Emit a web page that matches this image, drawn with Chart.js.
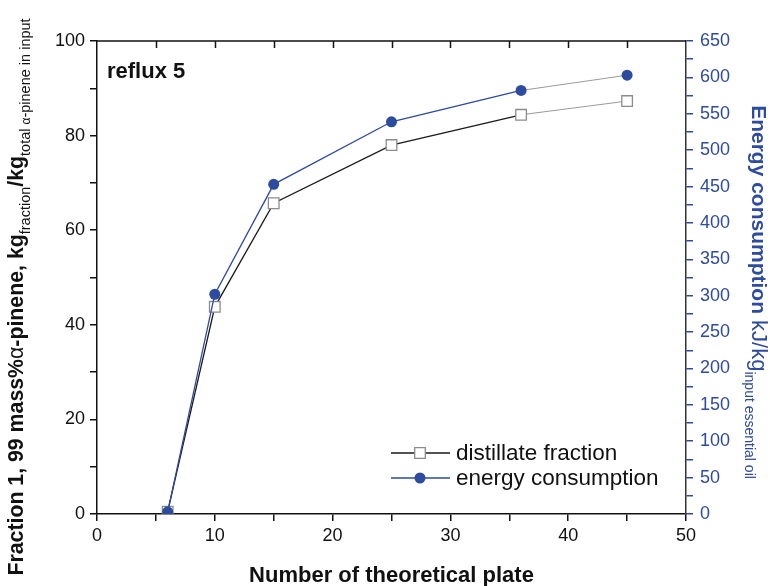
<!DOCTYPE html>
<html>
<head>
<meta charset="utf-8">
<style>
html, body { margin: 0; padding: 0; background: #fff; }
#wrap { width: 770px; height: 586px; }
</style>
<script src="https://cdn.jsdelivr.net/npm/chart.js@4/dist/chart.umd.min.js"></script>
</head>
<body>
<div id="wrap"><canvas id="chart"></canvas></div>
<script>
// data
var plates = [6, 10, 15, 25, 36, 45];
var distillate = [0.5, 43.8, 65.7, 78.0, 84.4, 87.3];
var energy = [3, 302, 453, 539, 582, 603];
var seriesNames = ['distillate fraction', 'energy consumption'];
var xTitle = 'Number of theoretical plate';
var panelLabel = 'reflux 5';

var FONT = '"Liberation Sans", Arial, sans-serif';
var BLUE = '#2d4b9f';

function pts(ys) {
    return plates.map(function (x, i) { return { x: x, y: ys[i] }; });
}

// last segment of both curves is a thin grey line in the original
var lastGrey = function (c) { return c.p1DataIndex === plates.length - 1 ? '#9a9a9a' : undefined; };
var lastThin = function (c) { return c.p1DataIndex === plates.length - 1 ? 1 : undefined; };

// draws text made of runs (bold / subscript) rotated around a centre
function richText(ctx, runs, cx, cy, angle, color) {
    ctx.save();
    ctx.translate(cx, cy);
    ctx.rotate(angle);
    ctx.fillStyle = color;
    ctx.textBaseline = 'alphabetic';
    ctx.textAlign = 'left';
    var total = 0;
    runs.forEach(function (r) { ctx.font = r.f; r.w = ctx.measureText(r.t).width; total += r.w; });
    var x = -total / 2;
    runs.forEach(function (r) {
        ctx.font = r.f;
        ctx.fillText(r.t, x, 7 + (r.dy || 0));
        x += r.w;
    });
    ctx.restore();
}

var decor = {
    id: 'decor',
    afterDraw: function (chart) {
        var ctx = chart.ctx;
        var a = chart.chartArea;
        var xs = chart.scales.x;

        // top frame with inward ticks
        ctx.save();
        ctx.strokeStyle = '#111';
        ctx.lineWidth = 1.5;
        ctx.beginPath();
        ctx.moveTo(a.left, a.top);
        ctx.lineTo(a.right, a.top);
        for (var v = 5; v < 50; v += 5) {
            var px = Math.round(xs.getPixelForValue(v)) + 0.5;
            ctx.moveTo(px, a.top);
            ctx.lineTo(px, a.top + 7);
        }
        ctx.stroke();
        ctx.restore();

        // panel label
        ctx.save();
        ctx.fillStyle = '#111';
        ctx.font = 'bold 22px ' + FONT;
        ctx.textBaseline = 'alphabetic';
        ctx.fillText(panelLabel, a.left + 10, a.top + 37);
        ctx.restore();

        // legend inside the plot
        var ds = chart.data.datasets;
        ctx.save();
        for (var i = 0; i < ds.length; i++) {
            var y = 453 + i * 25;
            ctx.strokeStyle = ds[i].borderColor;
            ctx.lineWidth = 1.3;
            ctx.beginPath();
            ctx.moveTo(391, y);
            ctx.lineTo(450, y);
            ctx.stroke();
            ctx.fillStyle = ds[i].pointBackgroundColor;
            ctx.strokeStyle = ds[i].pointBorderColor;
            ctx.lineWidth = ds[i].pointBorderWidth;
            Chart.helpers.drawPoint(ctx, { pointStyle: ds[i].pointStyle, radius: ds[i].pointRadius, borderWidth: ds[i].pointBorderWidth }, 420, y);
            ctx.fillStyle = '#111';
            ctx.font = '22.5px ' + FONT;
            ctx.textBaseline = 'middle';
            ctx.fillText(seriesNames[i], 456, y + 1);
        }
        ctx.restore();

        // axis titles
        ctx.save();
        ctx.fillStyle = '#111';
        ctx.font = 'bold 22px ' + FONT;
        ctx.textAlign = 'center';
        ctx.textBaseline = 'middle';
        ctx.fillText(xTitle, (a.left + a.right) / 2, 576);
        ctx.restore();

        var B = 'bold 21.3px ' + FONT, R = '21.3px ' + FONT, S = '14.5px ' + FONT;
        richText(ctx, [
            { t: 'Fraction 1, 99 mass%', f: B },
            { t: 'α', f: R },
            { t: '-pinene, kg', f: B },
            { t: 'fraction', f: S, dy: 7 },
            { t: '/kg', f: B },
            { t: 'total ', f: S, dy: 7 },
            { t: 'α', f: '12px ' + FONT, dy: 7 },
            { t: '-pinene in input', f: S, dy: 7 }
        ], 16, 297, -Math.PI / 2, '#111');

        richText(ctx, [
            { t: 'Energy consumption', f: 'bold 21px ' + FONT },
            { t: ' kJ/kg', f: '22px ' + FONT },
            { t: 'input essential oil', f: '14px ' + FONT, dy: 7 }
        ], 759, 292, Math.PI / 2, BLUE);
    }
};

new Chart(document.getElementById('chart'), {
    type: 'scatter',
    data: {
        datasets: [
            {
                label: seriesNames[0],
                data: pts(distillate),
                yAxisID: 'y',
                order: 1,
                showLine: true,
                borderColor: '#1a1a1a',
                borderWidth: 1.3,
                pointStyle: 'rect',
                pointRadius: 7.5,
                pointBackgroundColor: '#ffffff',
                pointBorderColor: '#8c8c8c',
                pointBorderWidth: 1.3,
                segment: { borderColor: lastGrey, borderWidth: lastThin }
            },
            {
                label: seriesNames[1],
                data: pts(energy),
                yAxisID: 'y1',
                order: 0,
                showLine: true,
                borderColor: BLUE,
                borderWidth: 1.3,
                pointStyle: 'circle',
                pointRadius: 5.5,
                pointBackgroundColor: BLUE,
                pointBorderColor: BLUE,
                pointBorderWidth: 0,
                segment: { borderColor: lastGrey, borderWidth: lastThin }
            }
        ]
    },
    options: {
        responsive: true,
        maintainAspectRatio: false,
        animation: false,
        layout: { padding: { top: 41, left: 0, right: 0, bottom: 0 } },
        plugins: {
            legend: { display: false },
            tooltip: { enabled: false }
        },
        scales: {
            x: {
                type: 'linear',
                position: 'bottom',
                min: 0,
                max: 50,
                ticks: {
                    stepSize: 5,
                    autoSkip: false,
                    maxRotation: 0,
                    padding: 4,
                    color: '#111',
                    font: { family: FONT, size: 18 },
                    callback: function (v) { return v % 10 === 0 ? v : ''; }
                },
                grid: { drawOnChartArea: false, tickLength: 7, color: '#111', lineWidth: 1.5 },
                border: { color: '#111', width: 1.5 },
                afterFit: function (s) { s.height = 72; }
            },
            y: {
                position: 'left',
                min: 0,
                max: 100,
                ticks: {
                    stepSize: 10,
                    autoSkip: false,
                    padding: 5,
                    color: '#111',
                    font: { family: FONT, size: 18 },
                    callback: function (v) { return v % 20 === 0 ? v : ''; }
                },
                grid: { drawOnChartArea: false, tickLength: 7, color: '#111', lineWidth: 1.5 },
                border: { color: '#111', width: 1.5 },
                afterFit: function (s) { s.width = 97; }
            },
            y1: {
                position: 'right',
                min: 0,
                max: 650,
                ticks: {
                    stepSize: 25,
                    autoSkip: false,
                    padding: 7,
                    color: BLUE,
                    font: { family: FONT, size: 18 },
                    callback: function (v) { return v % 50 === 0 ? v : ''; }
                },
                grid: { drawOnChartArea: false, tickLength: 7, color: BLUE, lineWidth: 1.5 },
                border: { color: '#333', width: 1.5 },
                afterFit: function (s) { s.width = 84; }
            }
        }
    },
    plugins: [decor]
});
</script>
</body>
</html>
